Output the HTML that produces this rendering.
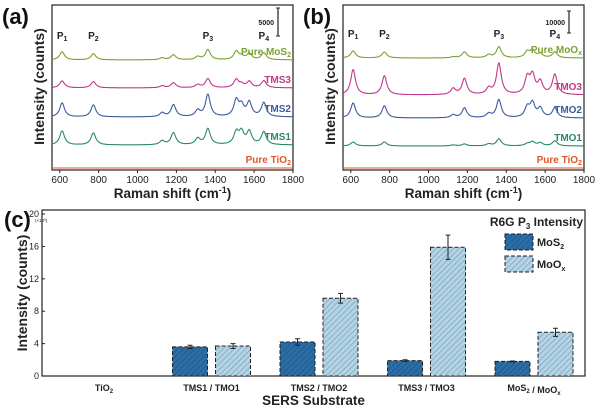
<!DOCTYPE html>
<html><head><meta charset="utf-8"><style>
body{margin:0;background:#fff;}
svg{display:block;font-family:"Liberation Sans",Arial,sans-serif;}
</style></head><body>
<svg id="fig" width="600" height="408" viewBox="0 0 600 408">
<defs>
<pattern id="hatchD" width="4" height="4" patternUnits="userSpaceOnUse" patternTransform="rotate(45)"><rect width="4" height="4" fill="#2b6ea6"/><line x1="0" y1="0" x2="0" y2="4" stroke="#1d4f7c" stroke-width="1.2"/></pattern>
<pattern id="hatchL" width="4" height="4" patternUnits="userSpaceOnUse" patternTransform="rotate(45)"><rect width="4" height="4" fill="#b4d3e4"/><line x1="0" y1="0" x2="0" y2="4" stroke="#6f9ab5" stroke-width="1.2"/></pattern>
</defs>
</svg>
<script>
const NS='http://www.w3.org/2000/svg';
const svg=document.getElementById('fig');
function mk(tag,attrs,parent,text){const e=document.createElementNS(NS,tag);for(const k in attrs)e.setAttribute(k,attrs[k]);if(text!==undefined)e.textContent=text;(parent||svg).appendChild(e);return e;}

// ---------- Spectra data ----------
const peakPositions=[612,773,1127,1185,1310,1362,1508,1535,1575,1650];
const ramanTicks=[600,800,1000,1200,1400,1600,1800];
const seriesA=['Pure MoS2','TMS3','TMS2','TMS1','Pure TiO2'];
const offsetsA=[19300,14300,9100,4100,0];
const ampMoS2=[1450,1100,350,900,550,1800,1450,550,1100,1250];
const ampTMS3=[1250,1100,350,900,550,1600,1450,550,1100,1250];
const ampTMS2=[2500,2150,700,2150,1100,3950,2850,1800,2500,2500];
const ampTMS1=[2500,2150,700,2150,1100,2850,2150,2150,2300,2300];
const ampTiO2A=[0,0,0,0,0,0,0,0,0,0];
const seriesB=['Pure MoOx','TMO3','TMO2','TMO1','Pure TiO2'];
const offsetsB=[50000,33200,22700,10000,0];
const ampMoOx=[3200,2700,450,2700,1350,5000,2700,3200,1800,2700];
const ampTMO3=[11400,8600,2700,7300,2700,14100,7300,8200,5500,9100];
const ampTMO2=[6800,5500,1350,4500,1800,8200,4500,6400,4100,4500];
const ampTMO1=[1800,1800,450,900,900,3200,900,1800,1350,2300];
const ampTiO2B=[0,0,0,0,0,0,0,0,0,0];

const colors=['#7aa32e','#c2378a','#3b5c9e','#2b8a68','#e0562a'];

function spectrum(x,amps){let s=0;for(let i=0;i<peakPositions.length;i++){const d=(x-peakPositions[i])/15;s+=amps[i]/(1+d*d);}return s;}

function panel(cfg){
  const g=mk('g',{});
  const xs=v=>cfg.x0+(v-560)*(cfg.x1-cfg.x0)/(1800-560);
  const ys=v=>cfg.yb-v*cfg.k;
  mk('rect',{x:cfg.x0,y:cfg.yt,width:cfg.x1-cfg.x0,height:cfg.yb+2-cfg.yt,fill:'none',stroke:'#222','stroke-width':1.2,},g);
  ramanTicks.forEach(t=>{
    mk('line',{x1:xs(t),x2:xs(t),y1:cfg.yb+2,y2:cfg.yb+5,stroke:'#222'},g);
    const tl=mk('text',{x:xs(t),y:cfg.yb+15,'font-size':10,'text-anchor':'middle',fill:'#222'},g,t);
    
    
  });
  cfg.amps.forEach((a,si)=>{
    let d='';
    for(let x=560;x<=1800;x+=2){const y=ys(cfg.offsets[si]+spectrum(x,a));d+=(x===560?'M':'L')+xs(x).toFixed(1)+','+y.toFixed(1);}
    const p=mk('path',{d:d,fill:'none',stroke:colors[si],'stroke-width':1.1},g);
    
    
  });
  cfg.labels.forEach((lb,i)=>{
    const t=mk('text',{x:cfg.x1-2,y:ys(cfg.offsets[i])-5,'font-size':10,'font-weight':'bold','text-anchor':'end',fill:colors[i],},g);
    t.innerHTML=lb;
  });
  const pl=[[612,'1'],[773,'2'],[1362,'3'],[1650,'4']];
  pl.forEach(([x,n],i)=>{
    const t=mk('text',{x:xs(x),y:cfg.py,'font-size':10,'font-weight':'bold','text-anchor':'middle',fill:'#222',},g);
    t.innerHTML='P<tspan font-size="7" dy="2">'+n+'</tspan>';
  });
  const sbx=cfg.x1-15;
  mk('line',{x1:sbx,x2:sbx,y1:cfg.sb0,y2:cfg.sb0-cfg.sbVal*cfg.k,stroke:'#222','stroke-width':1.2,},g);
  mk('line',{x1:sbx-2,x2:sbx+2,y1:cfg.sb0,y2:cfg.sb0,stroke:'#222'},g);
  mk('line',{x1:sbx-2,x2:sbx+2,y1:cfg.sb0-cfg.sbVal*cfg.k,y2:cfg.sb0-cfg.sbVal*cfg.k,stroke:'#222'},g);
  mk('text',{x:sbx-4,y:(cfg.sb0-cfg.sbVal*cfg.k/2)+3,'font-size':7,'font-weight':'bold','text-anchor':'end',fill:'#222',},g,cfg.sbVal);
  const xt=mk('text',{x:(cfg.x0+cfg.x1)/2,y:cfg.yb+30,'font-size':13.5,'font-weight':'bold','text-anchor':'middle',fill:'#222',},g);
  xt.innerHTML='Raman shift (cm<tspan font-size="9" dy="-5">-1</tspan><tspan dy="5">)</tspan>';
  mk('text',{x:0,y:0,transform:'translate('+(cfg.x0-8)+','+((cfg.yt+cfg.yb)/2)+') rotate(-90)','font-size':14,'font-weight':'bold','text-anchor':'middle',fill:'#222',},g,'Intensity (counts)');
  mk('text',{x:cfg.lx,y:24,'font-size':22,'font-weight':'bold',fill:'#111',},g,cfg.letter);
}

panel({name:'panel-a',x0:52,x1:293,yt:5,yb:168,k:28/5000,offsets:offsetsA,amps:[ampMoS2,ampTMS3,ampTMS2,ampTMS1,ampTiO2A],series:seriesA,
  labels:['Pure MoS<tspan font-size="7" dy="2">2</tspan>','TMS3','TMS2','TMS1','Pure TiO<tspan font-size="7" dy="2">2</tspan>'],
  py:39,sb0:36,sbVal:5000,letter:'(a)',lx:2});
panel({name:'panel-b',x0:343,x1:584,yt:5,yb:168,k:22/10000,offsets:offsetsB,amps:[ampMoOx,ampTMO3,ampTMO2,ampTMO1,ampTiO2B],series:seriesB,
  labels:['Pure MoO<tspan font-size="7" dy="2">x</tspan>','TMO3','TMO2','TMO1','Pure TiO<tspan font-size="7" dy="2">2</tspan>'],
  py:37,sb0:33,sbVal:10000,letter:'(b)',lx:303});

// ---------- Bar chart data ----------
const categories=['TiO2','TMS1 / TMO1','TMS2 / TMO2','TMS3 / TMO3','MoS2 / MoOx'];
const mos2Values=[0,3.6,4.2,1.9,1.8];
const mos2Errors=[0,0.2,0.4,0.1,0.05];
const mooxValues=[0,3.7,9.6,15.9,5.4];
const mooxErrors=[0,0.3,0.6,1.5,0.5];
const barTicks=[0,4,8,12,16,20];

(function(){
  const g=mk('g',{});
  const X0=42,X1=585,YT=210,YB=376;
  const ys=v=>YB-v*(YB-YT)/20.5;
  const cx=i=>104+i*107.5;
  mk('rect',{x:X0,y:YT,width:X1-X0,height:YB-YT,fill:'none',stroke:'#222','stroke-width':1.2,},g);
  barTicks.forEach(t=>{
    mk('line',{x1:X0,x2:X0+3,y1:ys(t),y2:ys(t),stroke:'#222'},g);
    const tl=mk('text',{x:X0-3,y:ys(t)+3,'font-size':9,'text-anchor':'end',fill:'#222'},g,t);
    
    
  });
  mk('text',{x:35,y:222,'font-size':4.5,fill:'#222',},g,'(×10³)');
  function bar(v,e,xL,fill,name){
    const r=mk('rect',{x:xL,y:ys(v),width:35,height:ys(0)-ys(v),fill:fill,stroke:'#222','stroke-width':1,'stroke-dasharray':'4,2'},g);
    
    
    if(e>0){const c=xL+17.5;
      const eb=mk('path',{d:`M${c},${ys(v-e)}L${c},${ys(v+e)}M${c-2.5},${ys(v-e)}L${c+2.5},${ys(v-e)}M${c-2.5},${ys(v+e)}L${c+2.5},${ys(v+e)}`,stroke:'#222','stroke-width':1,fill:'none'},g);
      
      }
  }
  categories.forEach((c,i)=>{
    if(mos2Values[i]>0) bar(mos2Values[i],mos2Errors[i],cx(i)-39,'url(#hatchD)','bar-mos2-'+i);
    if(mooxValues[i]>0) bar(mooxValues[i],mooxErrors[i],cx(i)+4,'url(#hatchL)','bar-moox-'+i);
    const t=mk('text',{x:cx(i),y:391,'font-size':9,'font-weight':'bold','text-anchor':'middle',fill:'#222'},g);
    
    
    t.innerHTML=c.replace('TiO2','TiO<tspan font-size="6" dy="2">2</tspan><tspan dy="-2"></tspan>').replace('MoS2','MoS<tspan font-size="6" dy="2">2</tspan><tspan dy="-2"></tspan>').replace('MoOx','MoO<tspan font-size="6" dy="2">x</tspan>');
  });
  mk('text',{x:(X0+X1)/2,y:405,'font-size':13.5,'font-weight':'bold','text-anchor':'middle',fill:'#222',},g,'SERS Substrate');
  mk('text',{x:0,y:0,transform:'translate(27,293) rotate(-90)','font-size':14,'font-weight':'bold','text-anchor':'middle',fill:'#222',},g,'Intensity (counts)');
  mk('text',{x:4,y:227,'font-size':22,'font-weight':'bold',fill:'#111',},g,'(c)');
  const lt=mk('text',{x:583,y:226,'font-size':12,'font-weight':'bold','text-anchor':'end',fill:'#222',},g);
  lt.innerHTML='R6G P<tspan font-size="8" dy="3">3</tspan><tspan dy="-3"> Intensity</tspan>';
  mk('rect',{x:505,y:234,width:28,height:16,fill:'url(#hatchD)',stroke:'#222','stroke-dasharray':'4,2',},g);
  mk('rect',{x:505,y:256,width:28,height:16,fill:'url(#hatchL)',stroke:'#222','stroke-dasharray':'4,2',},g);
  const l1=mk('text',{x:537,y:246,'font-size':11,'font-weight':'bold',fill:'#222',},g);
  l1.innerHTML='MoS<tspan font-size="7" dy="3">2</tspan>';
  const l2=mk('text',{x:537,y:268,'font-size':11,'font-weight':'bold',fill:'#222',},g);
  l2.innerHTML='MoO<tspan font-size="7" dy="3">x</tspan>';
})();
</script>
</body></html>
